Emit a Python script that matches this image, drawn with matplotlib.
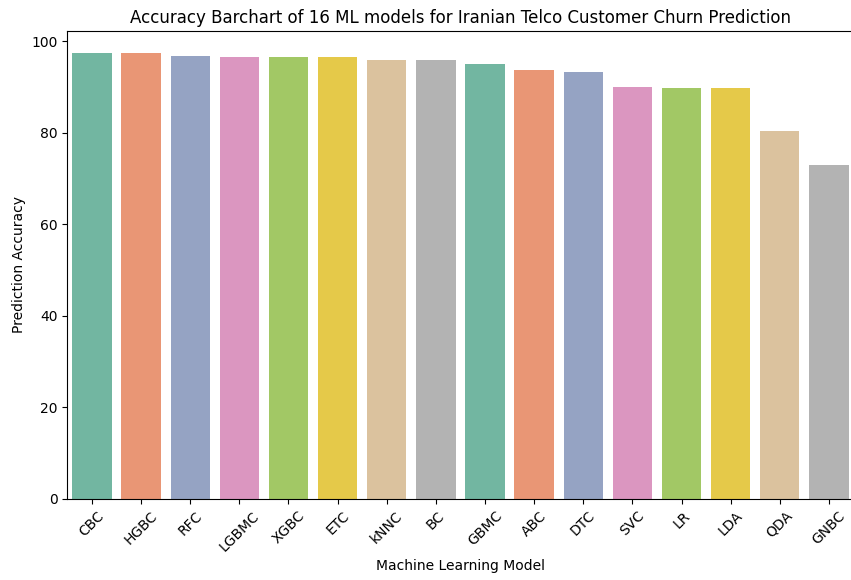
import matplotlib
matplotlib.use("Agg")
import matplotlib.pyplot as plt
import seaborn as sns
import pandas as pd

models = ["CBC", "HGBC", "RFC", "LGBMC", "XGBC", "ETC", "kNNC", "BC",
          "GBMC", "ABC", "DTC", "SVC", "LR", "LDA", "QDA", "GNBC"]
accuracy = [97.4, 97.4, 96.9, 96.7, 96.7, 96.7, 95.9, 95.9,
            95.1, 93.8, 93.4, 90.05, 89.8, 89.8, 80.5, 72.9]

df = pd.DataFrame({"Model": models, "Accuracy": accuracy})

fig = plt.figure(figsize=(8.51, 5.8), dpi=100)
ax = fig.add_axes([0.0792, 0.1397, 0.9237, 0.807])

sns.barplot(data=df, x="Model", y="Accuracy", hue="Model",
            palette="Set2", legend=False, ax=ax)

ax.set_title("Accuracy Barchart of 16 ML models for Iranian Telco Customer Churn Prediction",
             fontsize=12)
ax.set_xlabel("Machine Learning Model")
ax.set_ylabel("Prediction Accuracy")
ax.tick_params(axis="x", rotation=45)
ax.set_xlim(-0.5, 15.5)
ax.set_ylim(0, 102.3)

fig.savefig("out.png", dpi=100)
